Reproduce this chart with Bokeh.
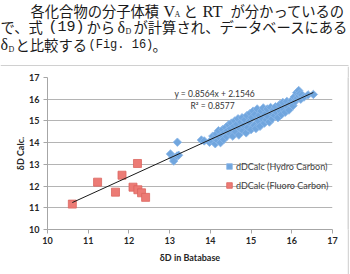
import math
from bokeh.plotting import figure
from bokeh.layouts import column, row
from bokeh.models import Label, Legend, LegendItem, FixedTicker, Range1d
from bokeh.embed import file_html
from bokeh.resources import INLINE

# ---- data ----
hc_x = [13.02, 13.08, 13.10, 13.18, 13.22, 13.19,
        13.78, 13.85, 13.98, 14.02, 14.06, 14.10, 14.12,
        14.15, 14.18, 14.20, 14.22, 14.25, 14.28, 14.30, 14.33, 14.35, 14.38, 14.40, 14.42, 14.45, 14.48, 14.50,
        14.52, 14.55, 14.58, 14.60, 14.62, 14.65, 14.68, 14.70, 14.72, 14.75, 14.78, 14.80, 14.82, 14.85, 14.88, 14.90, 14.92, 14.95, 14.98, 15.00,
        15.02, 15.05, 15.08, 15.10, 15.12, 15.15, 15.18, 15.20, 15.22, 15.25, 15.28, 15.30, 15.33, 15.35, 15.38, 15.40, 15.42, 15.45, 15.48, 15.50,
        15.52, 15.55, 15.58, 15.60, 15.63, 15.66, 15.70, 15.72, 15.75, 15.78, 15.80, 15.84, 15.88, 15.90, 15.93, 15.96,
        16.00, 16.03, 16.06, 16.08, 16.12, 16.14, 16.17, 16.18, 16.20, 16.22, 16.25, 16.30, 16.40, 16.53]
hc_y = [13.48, 13.30, 13.15, 13.38, 13.42, 14.02,
        14.12, 14.08, 14.02, 14.10, 14.30, 14.20, 13.95,
        14.40, 14.10, 14.55, 14.25, 14.00, 14.35, 14.60, 14.15, 14.45, 14.70, 14.28, 14.55, 14.82, 14.40, 14.65,
        14.90, 14.30, 14.75, 15.00, 14.50, 14.85, 15.10, 14.35, 14.65, 14.95, 15.15, 14.55, 14.80, 15.05, 14.45, 15.25, 14.70, 14.95, 15.35, 14.60,
        15.15, 15.45, 14.80, 15.30, 14.65, 15.55, 15.00, 15.25, 14.75, 15.45, 15.10, 15.60, 14.90, 15.30, 15.05, 15.55, 15.20, 14.95, 15.62, 15.35,
        15.10, 15.50, 15.25, 15.65, 15.40, 15.15, 15.75, 15.45, 15.30, 15.85, 15.55, 15.40, 15.90, 15.65, 15.50, 15.80,
        15.95, 15.70, 16.10, 15.90, 16.30, 16.05, 16.40, 16.15, 16.25, 16.00, 16.20, 16.10, 16.20, 16.22]
fc_x = [10.61, 11.23, 11.67, 11.83, 12.21, 12.10, 12.22, 12.31, 12.41]
fc_y = [11.17, 12.18, 11.72, 12.50, 13.04, 11.95, 11.83, 11.69, 11.48]

slope = 0.8564
intercept = 2.1546
r_squared = 0.8577

x_ticks = [10, 11, 12, 13, 14, 15, 16, 17]
y_ticks = [10, 11, 12, 13, 14, 15, 16, 17]
legend_labels = ["dDCalc (Hydro Carbon)", "dDCalc (Fluoro Carbon)"]
x_title = "δD in Batabase"
y_title = "δD Calc."

# ---- page geometry (pixels) ----
W, H = 350, 274
TOP_H = 66                 # height of the text strip above the chart box
CW = 347                   # chart width (box right edge just after)
FL, FR, FT, FB = 47, 332, 77, 229   # plot frame in page pixels

# ---- text strip (Japanese paragraph) ----
t = figure(width=W, height=TOP_H, title=None,
           x_range=Range1d(0, W), y_range=Range1d(TOP_H, 0),
           x_axis_location=None, y_axis_location=None,
           output_backend="svg", toolbar_location=None,
           min_border_left=0, min_border_right=0, min_border_top=0, min_border_bottom=0)
t.grid.visible = False
t.outline_line_color = None
t.background_fill_color = "white"
t.border_fill_color = "white"

JP = 14.3


def tl(x, y, text, font="Noto Sans CJK JP", size=JP, color="#1a1a1a"):
    t.add_layout(Label(x=x, y=y, text=text, text_font=font, text_font_size=f"{size}px",
                       text_color=color, text_align="left", text_baseline="middle"))


SERIF = "Liberation Serif"
MONO = "Liberation Mono"
L1, L2, L3 = 10, 26, 43.5
tl(30, L1, "各化合物の分子体積")
tl(163, L1 + 0.5, "V", font=SERIF, size=16)
tl(174, L1 + 4, "A", font=SERIF, size=8)
tl(183, L1, "と")
tl(202, L1 + 0.5, "RT", font=SERIF, size=16.5)
tl(230, L1, "が分かっているの")

tl(0, L2, "で、式")
tl(48, L2 + 0.5, "(19)", font=MONO, size=15)
tl(86, L2, "から")
tl(117, L2 + 0.5, "δ", font=SERIF, size=16)
tl(125, L2 + 5, "D", font=SERIF, size=8)
tl(133, L2, "が計算され、データベースにある")

tl(0, L3 + 0.5, "δ", font=SERIF, size=16)
tl(8, L3 + 5.5, "D", font=SERIF, size=8)
tl(15, L3, "と比較する")
tl(88, L3 + 0.5, "(Fig. 16)", font=MONO, size=12)
tl(152, L3, "。")

# top edge of the chart box
t.line([0, 348], [65.25, 65.25], line_color="#d0d0d0", line_width=1.5)

# ---- chart ----
CH = H - TOP_H
p = figure(width=CW, height=CH, title=None,
           x_range=Range1d(10, 17), y_range=Range1d(10, 17),
           output_backend="svg", toolbar_location=None,
           min_border_left=FL, min_border_right=CW - FR,
           min_border_top=FT - TOP_H, min_border_bottom=H - FB)
p.outline_line_color = None
p.background_fill_color = "white"
p.border_fill_color = "white"

p.xgrid.grid_line_color = None
p.ygrid.ticker = FixedTicker(ticks=y_ticks)
p.ygrid.grid_line_color = "#b4b4b4"
p.ygrid.grid_line_width = 1

for ax, ticks in ((p.xaxis, x_ticks), (p.yaxis, y_ticks)):
    ax.ticker = FixedTicker(ticks=ticks)
    ax.minor_tick_line_color = None
    ax.axis_line_color = "#a6a6a6"
    ax.major_tick_line_color = "#a6a6a6"
    ax.major_tick_in = 0
    ax.major_tick_out = 4
    ax.major_label_text_font = "Lato"
    ax.major_label_text_font_style = "bold"
    ax.major_label_text_font_size = "9px"
    ax.major_label_text_color = "#262626"
    ax.axis_label_text_font = "Lato"
    ax.axis_label_text_font_style = "bold"
    ax.axis_label_text_font_size = "9px"
    ax.axis_label_text_color = "#262626"

p.xaxis.axis_label = x_title
p.yaxis.axis_label = y_title
p.xaxis.major_label_standoff = 3
p.yaxis.major_label_standoff = 4
p.xaxis.axis_label_standoff = 5
p.yaxis.axis_label_standoff = 0

r_hc = p.scatter(hc_x, hc_y, marker="square", angle=math.pi / 4, size=6,
                 fill_color="#71a6de", line_color="#8cb8e8", line_width=0.8)
r_fc = p.scatter(fc_x, fc_y, marker="square", size=8,
                 fill_color="#ec7b75", line_color="#dc6660", line_width=0.8)

xmin = min(min(hc_x), min(fc_x))
xmax = max(max(hc_x), max(fc_x))
p.line([xmin, xmax], [slope * xmin + intercept, slope * xmax + intercept],
       line_color="#1a1a1a", line_width=1)

legend = Legend(items=[LegendItem(label=legend_labels[0], renderers=[r_hc]),
                       LegendItem(label=legend_labels[1], renderers=[r_fc])],
                location=(175, 37), orientation="vertical",
                glyph_width=14, glyph_height=14, spacing=5, padding=0, margin=0,
                label_standoff=0, label_height=14,
                label_text_font="Lato", label_text_font_size="9px",
                label_text_color="#404040",
                background_fill_alpha=0, border_line_color=None)
p.add_layout(legend, "center")


def pl(x, y, text, size=8.5, color="#333333"):
    p.add_layout(Label(x=x - FL, y=FB - y, x_units="screen", y_units="screen",
                       text=text, text_font="Lato", text_font_size=f"{size}px",
                       text_color=color, text_align="left", text_baseline="middle"))


pl(174, 93, f"y = {slope}x + {intercept}")
pl(190, 105, f"R² = {r_squared}")

# right edge of the chart box
edge = figure(width=2, height=CH, title=None, x_axis_location=None, y_axis_location=None,
              output_backend="svg", toolbar_location=None,
              min_border_left=0, min_border_right=0, min_border_top=0, min_border_bottom=0)
edge.grid.visible = False
edge.outline_line_color = None
edge.background_fill_color = "#d6d6d6"
edge.border_fill_color = "#d6d6d6"

layout = column(t, row(p, edge, spacing=0), spacing=0)

open("out.html", "w").write(file_html(layout, INLINE))
